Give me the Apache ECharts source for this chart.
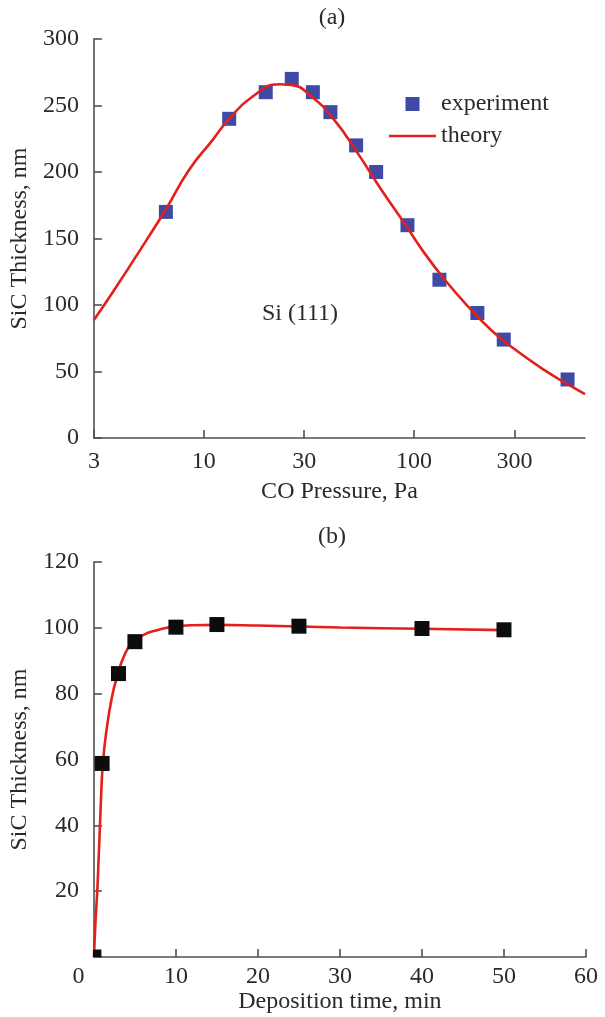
<!DOCTYPE html>
<html lang="en">
<head>
    <meta charset="UTF-8">
    <title>SiC thickness</title>
    <script src="https://cdn.jsdelivr.net/npm/echarts@6/dist/echarts.min.js"></script>
    <style>
        body{
            margin: 0;
            background: #fff;
        }
        #chart{
            width: 605px;
            height: 1017px;
        }
    </style>
</head>
<body>
    <div id="chart"></div>
    <script>
        // (a) thickness vs CO pressure
        var pressureExp = [6.6, 13.2, 19.7, 26.2, 33, 40, 53, 66, 93, 132, 200, 267, 537];
        var thickExpA = [170, 240, 260, 270, 260, 245, 220, 200, 160, 119, 94, 74, 44];
        var pressureFit = [3, 3.66, 5.3, 6.6, 8.5, 11, 13.2, 17, 22.8, 26, 32.4, 41.8, 54, 70, 90, 112, 140, 181, 233, 290, 417, 537, 650];
        var thickFitA = [88.7, 108.8, 148, 172, 201.5, 224, 240, 256.6, 266, 265.5, 257, 239, 214, 186.5, 161.4, 139, 119, 98.7, 81, 68.6, 51, 40.5, 33];
        var pressureTicks = [3, 10, 30, 100, 300];

        // (b) thickness vs deposition time
        var timeExp = [0, 1, 3, 5, 10, 15, 25, 40, 50];
        var thickExpB = [0, 58.8, 86.1, 95.8, 100.2, 101, 100.5, 99.8, 99.4];
        var timeFit = [0, 0.2, 0.45, 0.85, 1.1, 1.6, 2.2, 2.8, 3.6, 4.6, 6, 7.7, 9.5, 12, 15, 20, 25, 30, 40, 50];
        var thickFitB = [0, 11, 22, 47, 59, 70, 79, 85, 91, 95.3, 97.8, 99.3, 100.3, 100.8, 100.9, 100.7, 100.4, 100.1, 99.7, 99.3];

        var FONT = '"Liberation Serif", "Times New Roman", serif';
        var TXT = '#2a2a2a';
        var AX = '#505050';
        var RED = '#e2201c';

        function zip(a, b){
            return a.map(function(v, i){ return [v, b[i]]; });
        }

        var axisLine = { show: true, onZero: false, lineStyle: { color: AX, width: 1.6 } };
        var tick = { show: true, inside: true, length: 8, lineStyle: { color: AX, width: 1.6 } };
        var label = { color: TXT, fontFamily: FONT, fontSize: 24 };
        var nameStyle = { color: TXT, fontFamily: FONT, fontSize: 24 };

        var chart = echarts.init(document.getElementById('chart'));
        var option = {
            backgroundColor: '#fff',
            animation: false,
            grid: [
                { left: 93, top: 39, width: 492, height: 399 },
                { left: 93, top: 562, width: 493, height: 395 }
            ],
            xAxis: [
                {
                    gridIndex: 0, type: 'log', logBase: 10, min: 3, max: 650,
                    name: 'CO Pressure, Pa', nameLocation: 'middle', nameGap: 42, nameTextStyle: nameStyle,
                    axisLine: axisLine,
                    axisTick: Object.assign({}, tick, { customValues: pressureTicks }),
                    axisLabel: Object.assign({}, label, { margin: 12, customValues: pressureTicks }),
                    splitLine: { show: false }, minorTick: { show: false }
                },
                {
                    gridIndex: 1, type: 'value', min: 0, max: 60, interval: 10,
                    name: 'Deposition time, min', nameLocation: 'middle', nameGap: 33, nameTextStyle: nameStyle,
                    axisLine: axisLine, axisTick: tick,
                    axisLabel: Object.assign({}, label, {
                        margin: 8,
                        formatter: function(v){ return v === 0 ? '{z|0}' : String(v); },
                        rich: { z: { color: TXT, fontFamily: FONT, fontSize: 24, padding: [0, 31, 0, 0] } }
                    }),
                    splitLine: { show: false }
                }
            ],
            yAxis: [
                {
                    gridIndex: 0, type: 'value', min: 0, max: 300, interval: 50,
                    name: 'SiC Thickness, nm', nameLocation: 'middle', nameGap: 57, nameTextStyle: nameStyle,
                    axisLine: axisLine, axisTick: tick,
                    axisLabel: Object.assign({}, label, { margin: 15 }),
                    splitLine: { show: false }
                },
                {
                    gridIndex: 1, type: 'value', min: 0, max: 120, interval: 20,
                    name: 'SiC Thickness, nm', nameLocation: 'middle', nameGap: 57, nameTextStyle: nameStyle,
                    axisLine: axisLine, axisTick: tick,
                    axisLabel: Object.assign({}, label, {
                        margin: 15,
                        formatter: function(v){ return v === 0 ? '' : String(v); }
                    }),
                    splitLine: { show: false }
                }
            ],
            legend: {
                left: 384, top: 87, orient: 'vertical',
                itemWidth: 47, itemHeight: 14, itemGap: 8,
                textStyle: { color: TXT, fontFamily: FONT, fontSize: 24 },
                data: [
                    { name: 'experiment', icon: 'path://M0,0L10,0L10,10L0,10Z' },
                    { name: 'theory', icon: 'path://M0,0L47,0L47,2.6L0,2.6Z' }
                ]
            },
            graphic: [
                { type: 'text', x: 332, y: 18, style: { text: '(a)', fill: TXT, font: '24px ' + FONT, align: 'center', verticalAlign: 'middle' } },
                { type: 'text', x: 332, y: 537, style: { text: '(b)', fill: TXT, font: '24px ' + FONT, align: 'center', verticalAlign: 'middle' } },
                { type: 'text', x: 300, y: 314, style: { text: 'Si (111)', fill: TXT, font: '24px ' + FONT, align: 'center', verticalAlign: 'middle' } }
            ],
            series: [
                {
                    name: 'experiment', type: 'scatter', xAxisIndex: 0, yAxisIndex: 0, z: 2,
                    symbol: 'rect', symbolSize: 14,
                    itemStyle: { color: '#3f4aa6', opacity: 1 },
                    data: zip(pressureExp, thickExpA)
                },
                {
                    name: 'theory', type: 'line', xAxisIndex: 0, yAxisIndex: 0, z: 3,
                    symbol: 'none', showSymbol: false, smooth: 0.5,
                    lineStyle: { color: RED, width: 2.6 },
                    itemStyle: { color: RED },
                    data: zip(pressureFit, thickFitA)
                },
                {
                    name: 'fitB', type: 'line', xAxisIndex: 1, yAxisIndex: 1, z: 2,
                    symbol: 'none', showSymbol: false, smooth: 0.5,
                    lineStyle: { color: RED, width: 2.6 },
                    data: zip(timeFit, thickFitB)
                },
                {
                    name: 'expB', type: 'custom', xAxisIndex: 1, yAxisIndex: 1, z: 3,
                    clip: true,
                    encode: { x: 0, y: 1 },
                    renderItem: function(params, api){
                        var p = api.coord([api.value(0), api.value(1)]);
                        var s = 15;
                        return {
                            type: 'rect',
                            shape: { x: p[0] - s / 2, y: p[1] - s / 2, width: s, height: s },
                            style: { fill: '#0c0c0c' }
                        };
                    },
                    data: zip(timeExp, thickExpB)
                }
            ]
        };
        chart.setOption(option);
    </script>
</body>
</html>
